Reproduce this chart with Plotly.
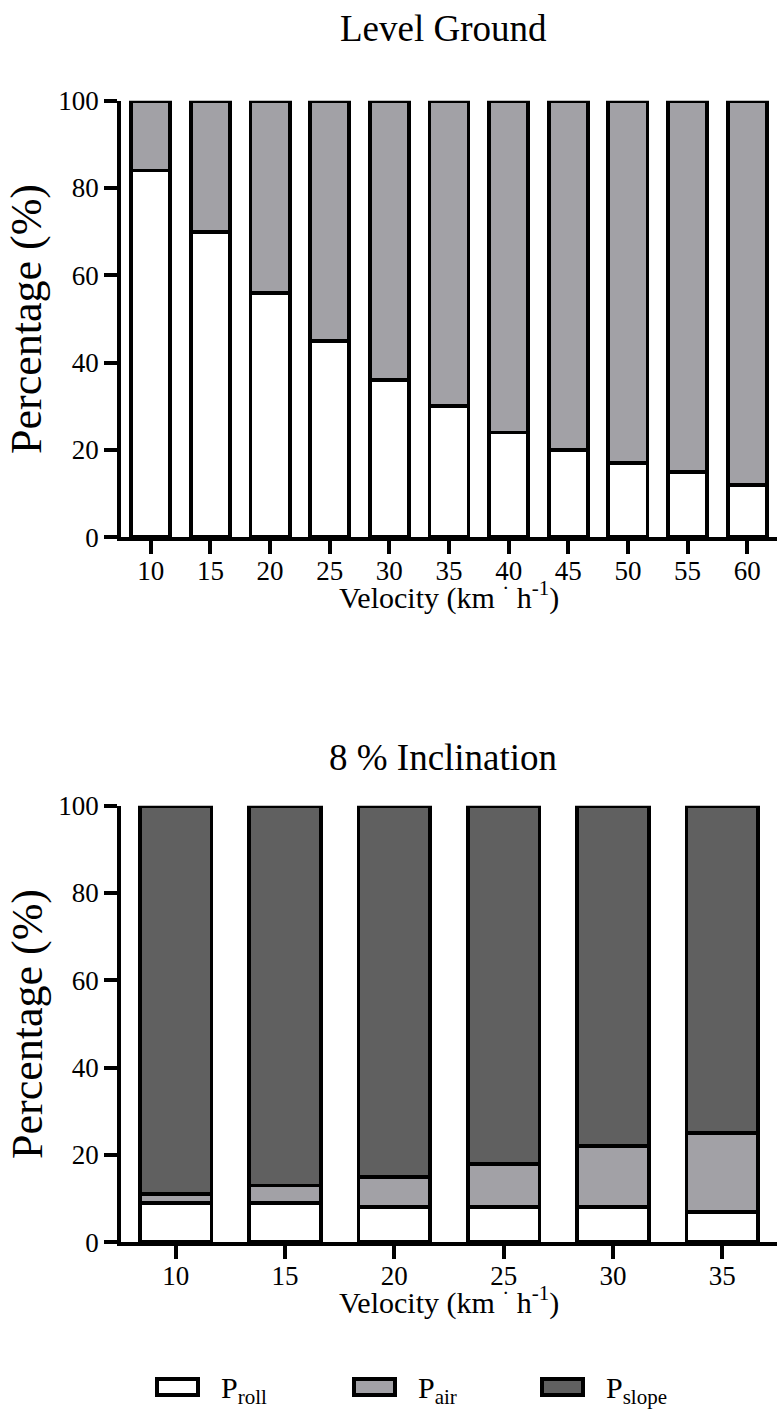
import plotly.graph_objects as go

# Level ground: share of power per component (%)
level_velocity = ["10", "15", "20", "25", "30", "35", "40", "45", "50", "55", "60"]
level_roll = [84, 70, 56, 45, 36, 30, 24, 20, 17, 15, 12]
level_air = [16, 30, 44, 55, 64, 70, 76, 80, 83, 85, 88]

# 8 % inclination: share of power per component (%)
incline_velocity = ["10", "15", "20", "25", "30", "35"]
incline_roll = [9, 9, 8, 8, 8, 7]
incline_air = [2, 4, 7, 10, 14, 18]
incline_slope = [89, 87, 85, 82, 78, 75]

series_names = ["P<sub>roll</sub>", "P<sub>air</sub>", "P<sub>slope</sub>"]
series_colors = ["#FFFFFF", "#A2A1A6", "#606060"]

y_ticks = [0, 20, 40, 60, 80, 100]

W, H = 777, 1412
ML, MR = 121, 0
FONT = "Liberation Serif, Times New Roman, serif"
LW = 3.8


def px_x(px):
    return (px - ML) / (W - ML - MR)


def px_y(py):
    return 1 - py / H


fig = go.Figure()

bar_line = dict(color="black", width=LW)

# top panel
for vals, name, col in zip([level_roll, level_air], series_names[:2], series_colors[:2]):
    fig.add_trace(go.Bar(x=level_velocity, y=vals, name=name, marker=dict(color=col, line=bar_line),
                         xaxis="x", yaxis="y", showlegend=False))

# bottom panel
for vals, name, col in zip([incline_roll, incline_air, incline_slope], series_names, series_colors):
    fig.add_trace(go.Bar(x=incline_velocity, y=vals, name=name, marker=dict(color=col, line=bar_line),
                         xaxis="x2", yaxis="y2", showlegend=False))

axis_common = dict(showline=True, linecolor="black", linewidth=LW, ticks="outside", ticklen=13,
                   tickwidth=LW, tickcolor="black", showgrid=False, zeroline=False, automargin=False,
                   tickfont=dict(family=FONT, size=27, color="black"))

x_extra = dict(ticklabelstandoff=-7)

top_dom = [px_y(537.3), px_y(100.7)]
bot_dom = [px_y(1242.3), px_y(805.7)]

fig.update_layout(
    width=W, height=H,
    margin=dict(l=ML, r=MR, t=0, b=0, autoexpand=False),
    plot_bgcolor="white", paper_bgcolor="white",
    barmode="stack", bargap=0.345,
    showlegend=False,
    xaxis=dict(type="category", range=[-0.5, len(level_velocity) - 0.5], domain=[0, 1], anchor="y",
               **axis_common, **x_extra),
    yaxis=dict(range=[0, 100], tickvals=y_ticks, domain=top_dom, anchor="x", **axis_common),
    xaxis2=dict(type="category", range=[-0.5, len(incline_velocity) - 0.5], domain=[0, 1], anchor="y2",
                **axis_common, **x_extra),
    yaxis2=dict(range=[0, 100], tickvals=y_ticks, domain=bot_dom, anchor="x2", **axis_common),
)

ann = []
title_font = dict(family=FONT, size=37, color="black")
label_font = dict(family=FONT, size=30, color="black")
ylabel_font = dict(family=FONT, size=44, color="black")
legend_font = dict(family=FONT, size=30, color="black")

for text, cy in [("Level Ground", 28), ("8 % Inclination", 757)]:
    ann.append(dict(text=text, x=px_x(443), y=px_y(cy), xref="paper", yref="paper",
                    xanchor="center", yanchor="middle", showarrow=False, font=title_font))

for cy in [595, 1300]:
    ann.append(dict(text="Velocity (km <sup>·</sup> h<sup>-1</sup>)", x=px_x(449), y=px_y(cy),
                    xref="paper", yref="paper", xanchor="center", yanchor="middle",
                    showarrow=False, font=label_font))

for cy in [319, 1024]:
    ann.append(dict(text="Percentage (%)", x=px_x(27), y=px_y(cy), xref="paper", yref="paper",
                    xanchor="center", yanchor="middle", textangle=-90, showarrow=False,
                    font=ylabel_font))

# legend drawn as outlined swatches with labels
shapes = []
legend_box_left = [157, 354, 542]
for left, name, col in zip(legend_box_left, series_names, series_colors):
    shapes.append(dict(type="rect", xref="paper", yref="paper",
                       x0=px_x(left), x1=px_x(left + 41), y0=px_y(1379), y1=px_y(1395),
                       fillcolor=col, line=dict(color="black", width=4)))
    ann.append(dict(text=name, x=px_x(left + 62), y=px_y(1390), xref="paper", yref="paper",
                    xanchor="left", yanchor="middle", showarrow=False, font=legend_font))

fig.update_layout(annotations=ann, shapes=shapes)

fig.write_html("out.html")
